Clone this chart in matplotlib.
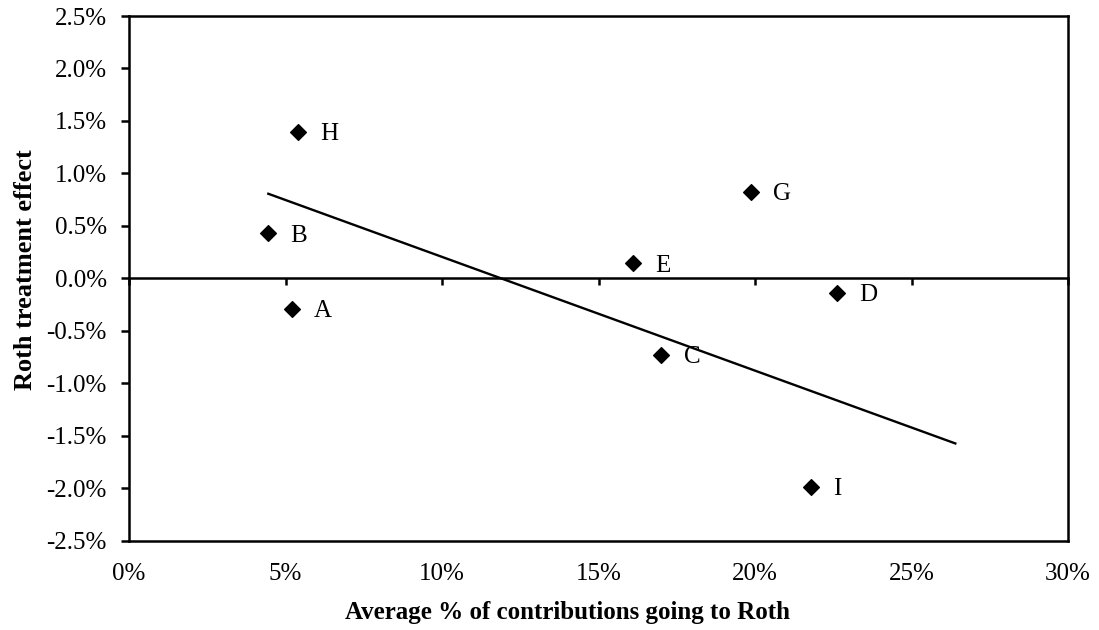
import matplotlib
matplotlib.use('Agg')
from matplotlib import rcParams

rcParams['font.family'] = 'serif'
rcParams['font.serif'] = ['Liberation Serif', 'DejaVu Serif']

import matplotlib.pyplot as plt
import matplotlib.ticker as mticker

# ############################################################
# data (percent)
# ############################################################
labels = ['A', 'B', 'C', 'D', 'E', 'G', 'H', 'I']
roth_share = [5.20, 4.45, 17.01, 22.63, 16.09, 19.86, 5.41, 21.80]
treatment_effect = [-0.286, 0.429, -0.724, -0.136, 0.143, 0.826, 1.397, -1.988]

# trend line end points as drawn in the chart
trend_x = [4.45, 26.40]
trend_y = [0.807, -1.571]

x_ticks = [0, 5, 10, 15, 20, 25, 30]
y_ticks = [-2.5, -2.0, -1.5, -1.0, -0.5, 0.0, 0.5, 1.0, 1.5, 2.0, 2.5]


def draw_chart():
    fig = plt.figure(figsize=(10.99, 6.30), dpi=100)
    ax1 = fig.add_axes([0.1174, 0.1413, 0.8544, 0.8333])

    ax1.plot(trend_x, trend_y, color='black', lw=1.7, zorder=2)
    ax1.scatter(roth_share, treatment_effect, marker='D', s=64,
                color='black', zorder=3)

    for lab, x, y in zip(labels, roth_share, treatment_effect):
        ax1.annotate(lab, (x, y), xytext=(16, -1.5), textcoords='offset points',
                     ha='left', va='center', fontsize=18)

    ax1.set_xlim(0, 30)
    ax1.set_ylim(-2.5, 2.5)
    ax1.set_xticks(x_ticks)
    ax1.set_yticks(y_ticks)
    ax1.xaxis.set_major_formatter(mticker.FuncFormatter(lambda v, p: '%d%%' % round(v)))
    ax1.yaxis.set_major_formatter(mticker.FuncFormatter(lambda v, p: '%.1f%%' % v))

    ax1.tick_params(axis='x', length=0, pad=16, labelsize=18)
    ax1.tick_params(axis='y', direction='out', length=6, width=1.8, pad=10, labelsize=18)
    for s in ax1.spines.values():
        s.set_linewidth(1.8)

    # x axis crossing at zero, ticks pointing down
    zero_axis = ax1.secondary_xaxis(0, transform=ax1.transData)
    zero_axis.set_xticks(x_ticks)
    zero_axis.tick_params(axis='x', direction='out', length=5, width=1.8, labelbottom=False, labeltop=False)
    for s in zero_axis.spines.values():
        s.set_linewidth(1.8)

    ax1.set_xlabel('Average % of contributions going to Roth', fontsize=18, fontweight='bold')
    ax1.set_ylabel('Roth treatment effect', fontsize=19, fontweight='bold')
    ax1.xaxis.set_label_coords(0.4665, -0.114)
    ax1.yaxis.set_label_coords(-0.098, 0.517)

    fig.savefig('out.png', dpi=100)


if __name__ == '__main__':
    draw_chart()
